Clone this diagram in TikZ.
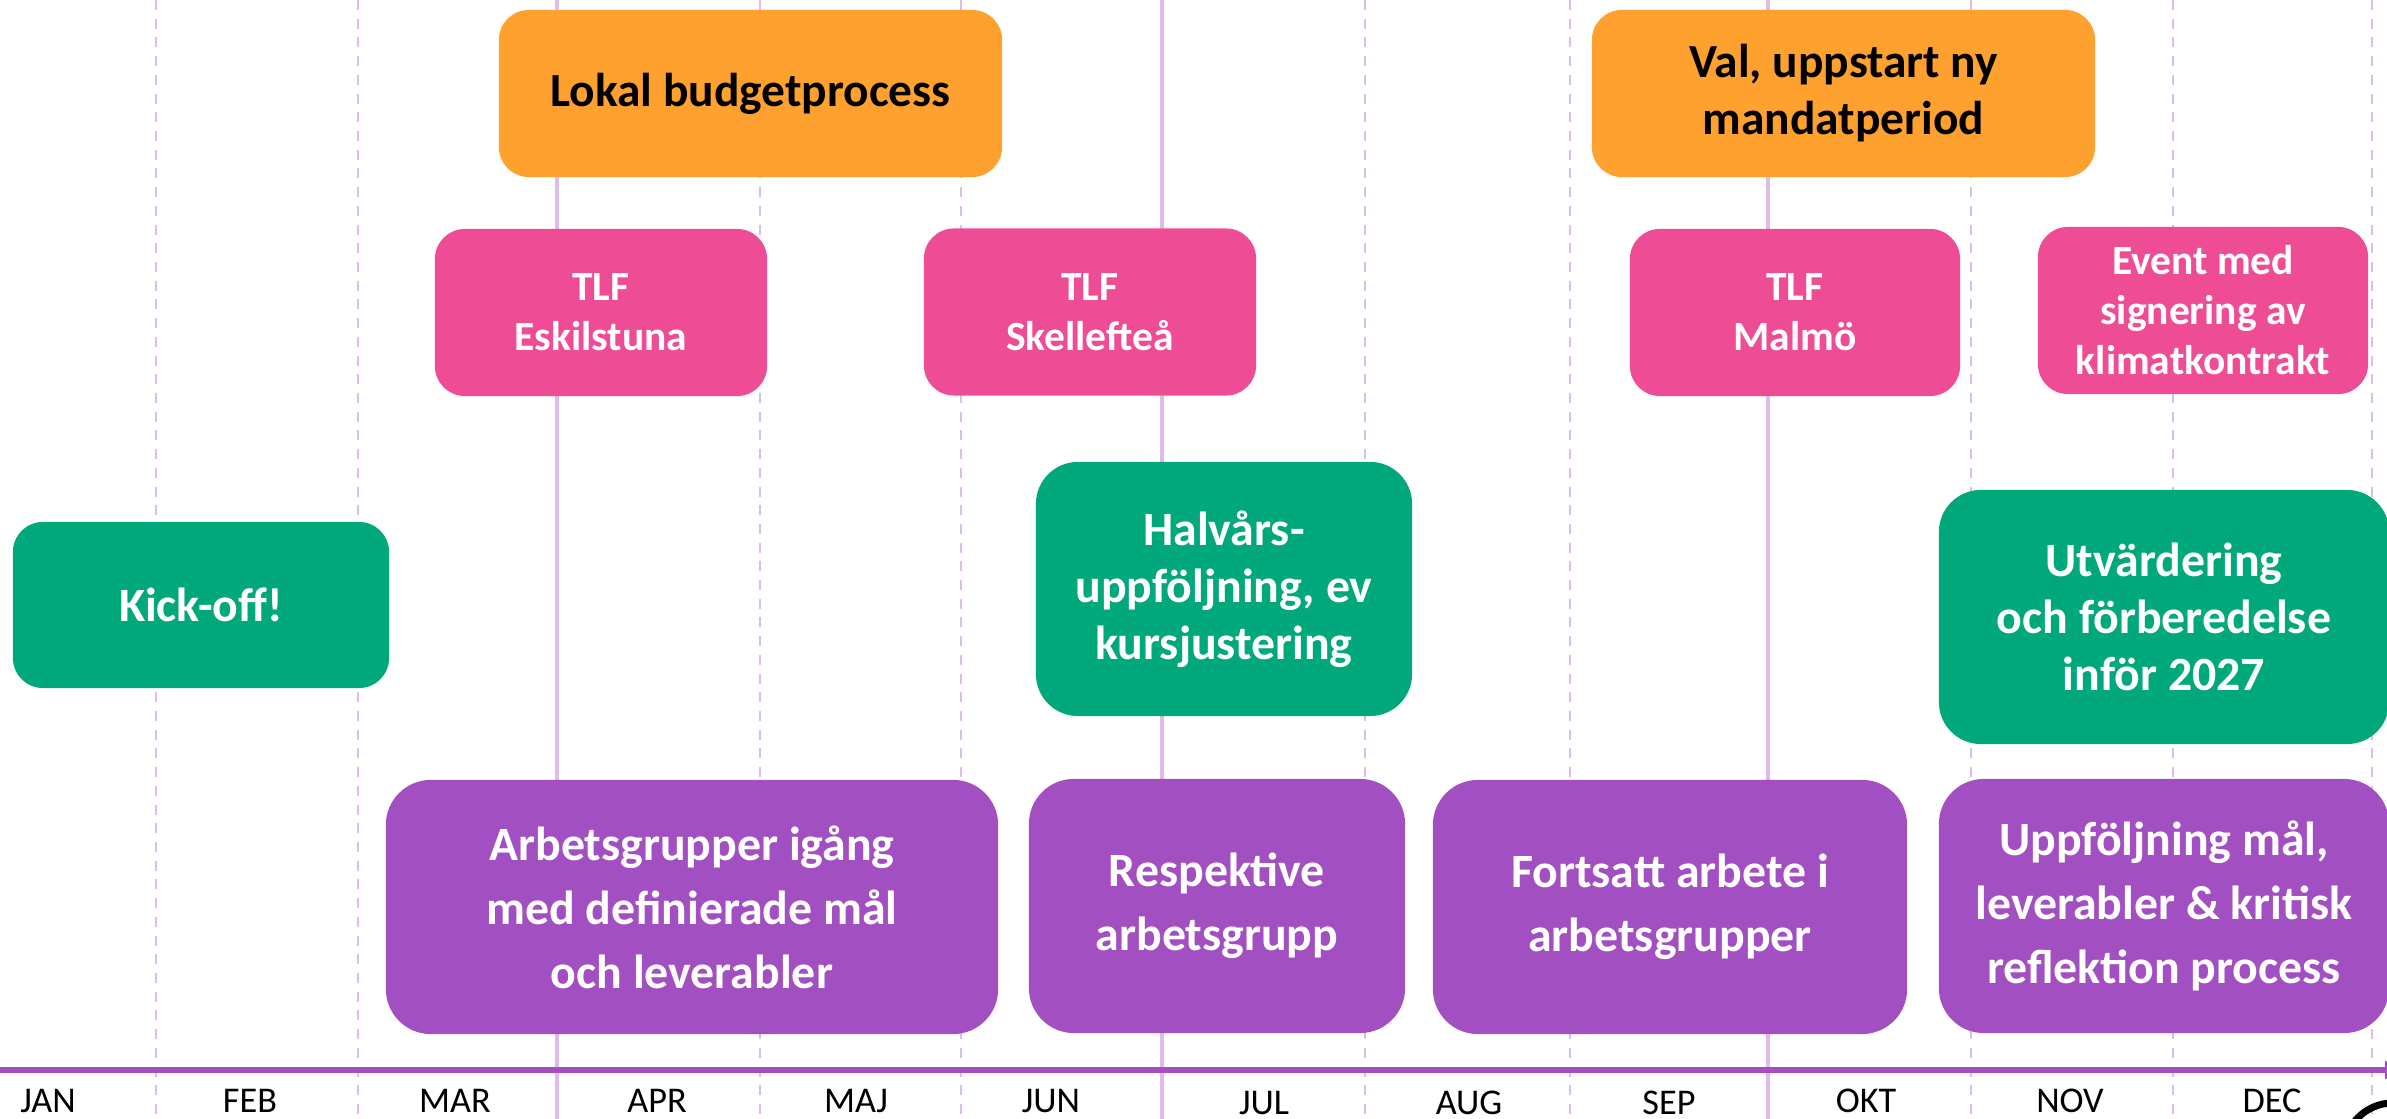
\documentclass[tikz,border=0pt]{standalone}
\usepackage{fontspec}
\setmainfont{Carlito}
\usepackage{xcolor}
\usetikzlibrary{arrows.meta}

\definecolor{orangebox}{HTML}{FFA12F}
\definecolor{pinkbox}{HTML}{EE4C95}
\definecolor{greenbox}{HTML}{00A87C}
\definecolor{purplebox}{HTML}{A24FC2}
\definecolor{gridline}{HTML}{DDBBEC}

\begin{document}
\begin{tikzpicture}[x=0.01cm, y=-0.01cm,
% common options for blocks:
block/.style = {rectangle, align=center, inner sep=0, rounded corners=0.3cm},
orangeblock/.style = {block, fill=orangebox, text=black, minimum height=1.67cm,
            font=\fontsize{13.5}{16.2}\selectfont\bfseries},
pinkblock/.style = {block, fill=pinkbox, text=white, minimum height=1.67cm,
            font=\fontsize{11.8}{14.2}\selectfont\bfseries},
greenblock/.style = {block, fill=greenbox, text=white,
            font=\fontsize{13.6}{16.2}\selectfont\bfseries},
purpleblock/.style = {block, fill=purplebox, text=white, minimum height=2.54cm,
            rounded corners=0.45cm, font=\fontsize{13.6}{18.2}\selectfont\bfseries},
% month labels and grid:
month/.style = {anchor=base, inner sep=0, font=\fontsize{10.3}{12}\selectfont},
dashline/.style = {gridline, line width=0.025cm, dash pattern=on 0.1cm off 0.087cm},
solidline/.style = {gridline, line width=0.04cm}]

\useasboundingbox (0,0) rectangle (2387,1119);
\clip (0,0) rectangle (2387,1119);

% grid
\draw[dashline] (156,0) -- (156,1119);
\draw[dashline] (358,0) -- (358,1119);
\draw[solidline] (557,0) -- (557,1119);
\draw[dashline] (760,0) -- (760,1119);
\draw[dashline] (961,0) -- (961,1119);
\draw[solidline] (1162,0) -- (1162,1119);
\draw[dashline] (1365,0) -- (1365,1119);
\draw[dashline] (1570,0) -- (1570,1119);
\draw[solidline] (1768,0) -- (1768,1119);
\draw[dashline] (1971,0) -- (1971,1119);
\draw[dashline] (2173,0) -- (2173,1119);
\draw[dashline] (2372,0) -- (2372,1119);

% time axis
\draw[purplebox, line width=0.05cm, -{Triangle[length=0.2cm, width=0.17cm]}] (0,1070) -- (2405,1070);

% months
\node[month] (M1) at (48,1113) {JAN};
\node[month] (M2) at (250,1113) {FEB};
\node[month] (M3) at (455,1113) {MAR};
\node[month] (M4) at (657,1113) {APR};
\node[month] (M5) at (856,1113) {MAJ};
\node[month] (M6) at (1051,1113) {JUN};
\node[month] (M7) at (1264,1114) {JUL};
\node[month] (M8) at (1469,1114) {AUG};
\node[month] (M9) at (1669,1114) {SEP};
\node[month] (M10) at (1866,1113) {OKT};
\node[month] (M11) at (2070,1113) {NOV};
\node[month] (M12) at (2272,1113) {DEC};

% budget and election
\node[orangeblock, minimum width=5.03cm] (O1) at (750.5,93.5) {Lokal budgetprocess};
\node[orangeblock, minimum width=5.03cm] (O2) at (1843.5,93.5) {Val, uppstart ny\\mandatperiod};

% TLF meetings
\node[pinkblock, minimum width=3.32cm] (P1) at (601,312.5) {TLF\\Eskilstuna};
\node[pinkblock, minimum width=3.32cm] (P2) at (1090,312) {TLF\\Skellefteå};
\node[pinkblock, minimum width=3.30cm] (P3) at (1795,312.5) {TLF\\Malmö};
\node[pinkblock, minimum width=3.30cm] (P4) at (2203,310.5) {Event med\\signering av\\klimatkontrakt};

% milestones
\node[greenblock, minimum width=3.76cm, minimum height=1.66cm] (G1) at (201,605) {Kick-off!};
\node[greenblock, minimum width=3.76cm, minimum height=2.54cm, rounded corners=0.42cm] (G2) at (1224,589) {Halvårs-\\uppföljning, ev\\kursjustering};
\node[greenblock, minimum width=4.50cm, minimum height=2.54cm, rounded corners=0.42cm] (G3) at (2164,617) {Utvärdering\\och förberedelse\\inför 2027};

% working groups
\node[purpleblock, minimum width=6.12cm] (L1) at (692,907) {Arbetsgrupper igång\\med definierade mål\\och leverabler};
\node[purpleblock, minimum width=3.76cm] (L2) at (1217,906) {Respektive\\arbetsgrupp};
\node[purpleblock, minimum width=4.74cm] (L3) at (1670,907) {Fortsatt arbete i\\arbetsgrupper};
\node[purpleblock, minimum width=4.50cm] (L4) at (2164,906) {Uppföljning mål,\\leverabler \& kritisk\\reflektion process};

% corner mark
\draw[line width=0.07cm] (2393,1152) circle[radius=0.49cm];
\end{tikzpicture}
\end{document}
